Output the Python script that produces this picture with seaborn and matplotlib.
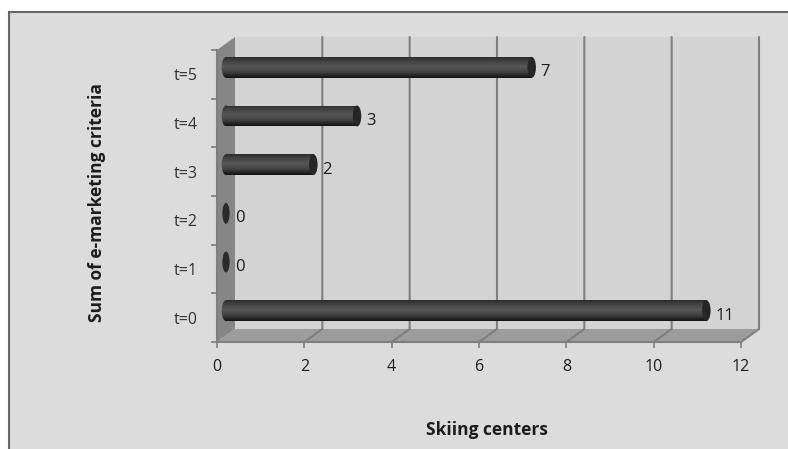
import numpy as np
import pandas as pd
import matplotlib
matplotlib.use("Agg")
import matplotlib.pyplot as plt
from matplotlib.colors import LinearSegmentedColormap
from matplotlib.patches import Ellipse, Polygon, Rectangle
import seaborn as sns

categories = ["t=5", "t=4", "t=3", "t=2", "t=1", "t=0"]
centers = [7, 3, 2, 0, 0, 11]
x_ticks = [0, 2, 4, 6, 8, 10, 12]

sns.set_theme(style="white")
plt.rcParams["font.family"] = ["Open Sans", "DejaVu Sans"]

W, H = 788, 449
fig = plt.figure(figsize=(W / 100, H / 100), dpi=100, facecolor="white")


def px_axes(left, top, right, bottom):
    return fig.add_axes([left / W, 1 - bottom / H, (right - left) / W, (bottom - top) / H])


# Outer chart panel with a grey frame on its top and left sides
fig.add_artist(Rectangle((9 / W, -0.05), (W + 20) / W, (H - 12) / H + 0.05, transform=fig.transFigure,
                         facecolor="#dcdcdc", edgecolor="#666666", linewidth=1.5, zorder=-1))

LEFT, TOP, RIGHT, BOTTOM = 217, 50, 741, 342
axf = px_axes(LEFT, TOP, RIGHT, BOTTOM)
axf.patch.set_alpha(0)
axf.set_xlim(0, 12)
axf.set_ylim(5.5, -0.5)

unit_x = (RIGHT - LEFT) / 12
unit_y = (BOTTOM - TOP) / 6
DX = 18 / unit_x
DY = 13 / unit_y

# Box walls: back plane, left wall and floor
axf.add_patch(Rectangle((DX, -0.5 - DY), 12, 6, facecolor="#d3d3d3", edgecolor="none", zorder=0,
                        clip_on=False))
axf.add_patch(Polygon([(0, -0.5), (DX, -0.5 - DY), (DX, 5.5 - DY), (0, 5.5)],
                      facecolor="#868686", edgecolor="none", zorder=1, clip_on=False))
axf.add_patch(Polygon([(0, 5.5), (DX, 5.5 - DY), (12 + DX, 5.5 - DY), (12, 5.5)],
                      facecolor="#9c9c9c", edgecolor="none", zorder=1, clip_on=False))

for v in x_ticks[1:]:
    axf.plot([v, v + DX, v + DX], [5.5, 5.5 - DY, -0.5 - DY], color="#7f7f7f", lw=1.5,
             zorder=2, clip_on=False, solid_joinstyle="miter")

for side in ("top", "right"):
    axf.spines[side].set_visible(False)
for side in ("left", "bottom"):
    axf.spines[side].set_color("#7f7f7f")
    axf.spines[side].set_linewidth(1.5)
    axf.spines[side].set_zorder(3)

axf.set_xticks(x_ticks)
axf.set_yticks(np.arange(7) - 0.5)
axf.set_yticklabels([])
axf.set_yticks(np.arange(6), labels=categories, minor=True)
axf.tick_params(axis="x", which="major", length=4.5, width=1.2, color="#7f7f7f",
                labelsize=11.5, labelcolor="#1c1c1c", pad=8, bottom=True)
axf.tick_params(axis="y", which="major", length=4.5, width=1.2, color="#7f7f7f", left=True)
axf.tick_params(axis="y", which="minor", length=0, labelsize=11.5, labelcolor="#333333", pad=14)

# Bars sit halfway into the box depth on their own transparent axes
axb = px_axes(LEFT + 9, TOP - 7, RIGHT + 9, BOTTOM - 7)
data = pd.DataFrame({"category": categories, "centers": centers})
sns.barplot(data=data, x="centers", y="category", order=categories, orient="h",
            width=0.43, color="#3a3a3a", linewidth=0, saturation=1, ax=axb)
axb.set_xlim(0, 12)
axb.set_ylim(5.5, -0.5)
axb.axis("off")
axb.patch.set_alpha(0)

shade = LinearSegmentedColormap.from_list(
    "cylinder",
    [(0, "#2c2c2c"), (0.15, "#3e3e3e"), (0.45, "#585858"), (0.72, "#424242"),
     (0.9, "#222222"), (1, "#141414")],
)
ramp = np.linspace(0, 1, 64).reshape(-1, 1)
cap_w = 8.5 / unit_x

for patch, value in zip(axb.patches, centers):
    y0, h = patch.get_y(), patch.get_height()
    yc = y0 + h / 2
    if value > 0:
        # Cylinder shading for the body and for its rounded left end
        body = axb.imshow(ramp, cmap=shade, aspect="auto", vmin=0, vmax=1,
                          extent=(0, value, y0 + h, y0), zorder=3, interpolation="bilinear")
        body.set_clip_path(patch)
        end = axb.imshow(ramp, cmap=shade, aspect="auto", vmin=0, vmax=1,
                         extent=(-cap_w, cap_w, y0 + h, y0), zorder=3, interpolation="bilinear")
        end.set_clip_path(Ellipse((0, yc), cap_w, h, transform=axb.transData))
        end.set_clip_box(fig.bbox)
        axb.add_patch(Ellipse((value, yc), cap_w, h, facecolor="#262626", edgecolor="none",
                              zorder=4, clip_on=False))
    else:
        axb.add_patch(Ellipse((value, yc), cap_w * 0.85, h, facecolor="#2b2b2b", edgecolor="none",
                              zorder=4, clip_on=False))
    axb.annotate(str(value), (value, yc), xytext=(6.5, -3.5), textcoords="offset points",
                 ha="left", va="center", fontsize=12, color="#1c1c1c", zorder=5,
                 annotation_clip=False)
axb.set_xlim(0, 12)
axb.set_ylim(5.5, -0.5)

fig.text(487 / W, 1 - 430 / H, "Skiing centers", ha="center", va="center",
         fontsize=12.5, fontweight="bold", color="#1c1c1c")
fig.text(97 / W, 1 - 203 / H, "Sum of e-marketing criteria", rotation=90, ha="center", va="center",
         fontsize=12.5, fontweight="bold", color="#1c1c1c")

fig.savefig("out.png", dpi=100, facecolor="white")
